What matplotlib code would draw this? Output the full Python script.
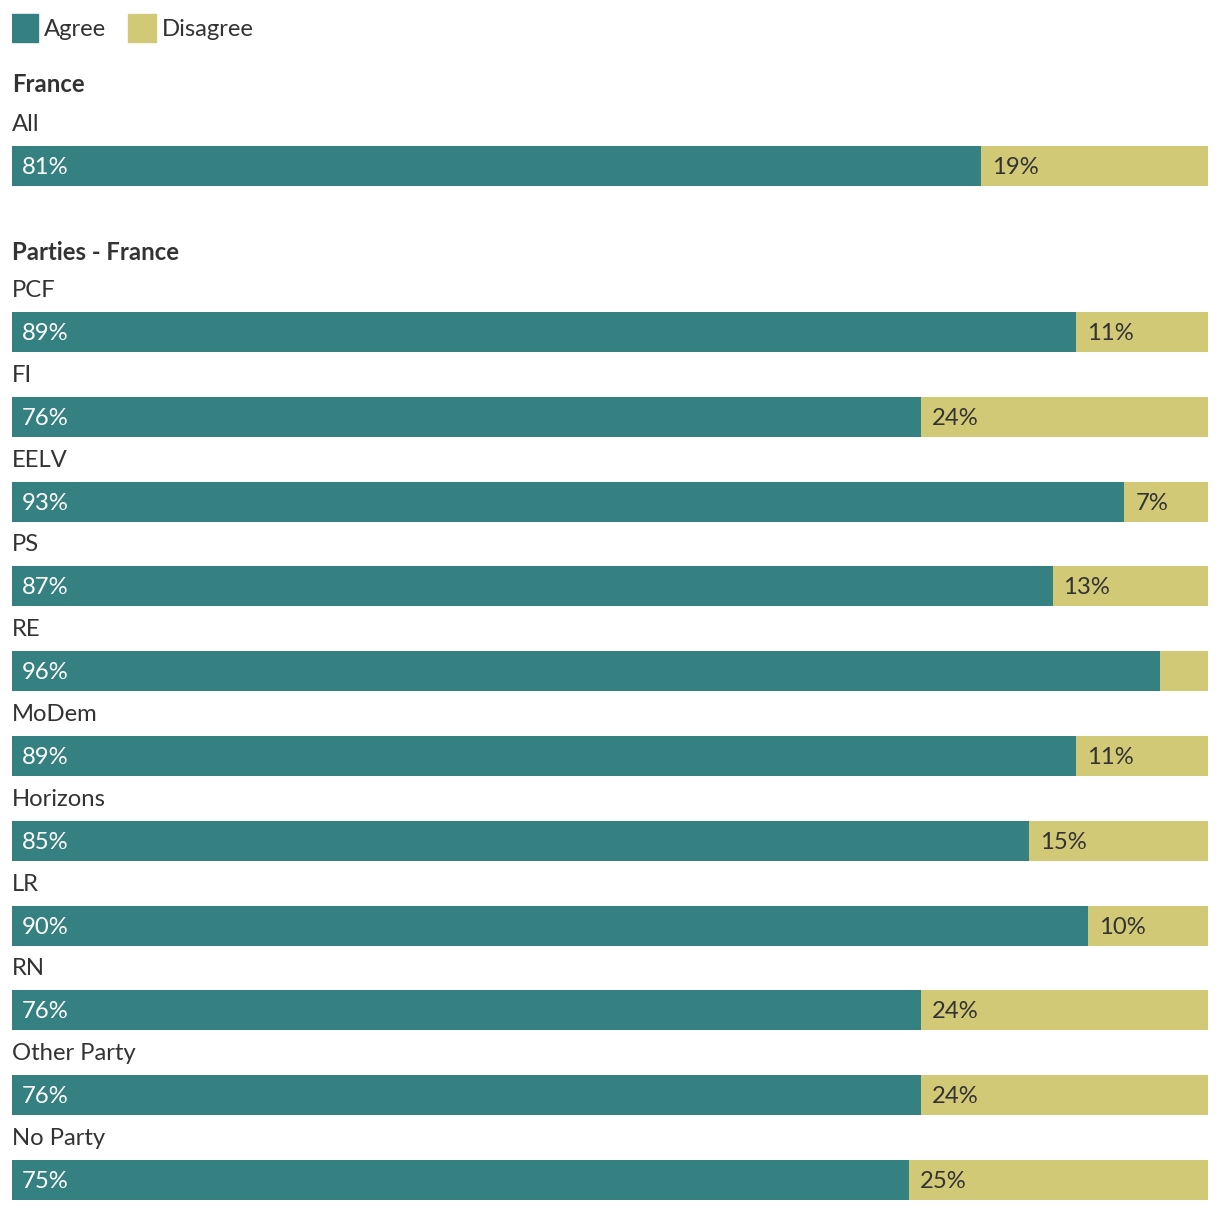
import numpy as np
import matplotlib.pyplot as plt

plt.rcParams['font.family'] = ['Lato', 'DejaVu Sans']

# data
france_labels = ["All"]
france_agree = [81]
france_disagree = [19]

party_labels = ["PCF", "FI", "EELV", "PS", "RE", "MoDem", "Horizons", "LR", "RN",
                "Other Party", "No Party"]
party_agree = [89, 76, 93, 87, 96, 89, 85, 90, 76, 76, 75]
party_disagree = [11, 24, 7, 13, 4, 11, 15, 10, 24, 24, 25]

teal = "#358080"
khaki = "#d2c977"
txt = "#333333"

W, H = 1220, 1212
fig = plt.figure(figsize=(W / 100, H / 100), dpi=100)
# axes spans bar width in x (0..100 %), pixel rows in y
ax = fig.add_axes([12 / W, 0, (1208 - 12) / W, 1])
ax.set_xlim(0, 100)
ax.set_ylim(H, 0)
ax.axis("off")

px = 100 / (1208 - 12)  # one pixel in x data units
fs = 17.2


def draw_group(title, title_y, labels, agree, disagree, first_top, step):
    ax.text(0, title_y, title, fontsize=fs, fontweight="bold", color=txt,
            va="center", ha="left")
    tops = first_top + step * np.arange(len(labels))
    ax.barh(tops + 20, agree, height=40, color=teal, left=0)
    ax.barh(tops + 20, disagree, height=40, color=khaki, left=agree)
    for lab, a, d, t in zip(labels, agree, disagree, tops):
        ax.text(0, t - 21.5, lab, fontsize=fs, color=txt, va="center", ha="left")
        ax.text(10 * px, t + 21.5, f"{a}%", fontsize=fs, color="white",
                va="center", ha="left")
        if d >= 5:
            ax.text(a + 11 * px, t + 21.5, f"{d}%", fontsize=fs, color=txt,
                    va="center", ha="left")


draw_group("France", 85, france_labels, france_agree, france_disagree, 146, 84.8)
draw_group("Parties - France", 253, party_labels, party_agree, party_disagree, 312, 84.8)

# legend
for i, (name, col) in enumerate([("Agree", teal), ("Disagree", khaki)]):
    x0 = [0, 118 * px][i]
    ax.add_patch(plt.Rectangle((x0 - 2 * px, 14), 28 * px, 28, color=col))
    ax.text(x0 + 32 * px, 29, name, fontsize=fs, color=txt, va="center", ha="left")

fig.savefig("out.png", dpi=100)
